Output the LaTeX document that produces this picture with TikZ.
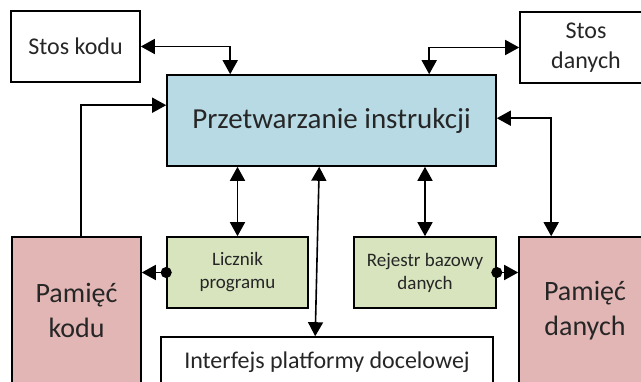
\documentclass[tikz,border=0pt]{standalone}
\usepackage{fontspec}
\setmainfont{Carlito}
\usetikzlibrary{arrows.meta,calc}
\definecolor{mainblue}{HTML}{B7DAE4}
\definecolor{regreen}{HTML}{D7E4BD}
\definecolor{mempink}{HTML}{E2B6B4}
\definecolor{txt}{HTML}{262626}
\begin{document}
\begin{tikzpicture}[x=1pt,y=-1pt,
  box/.style={draw=black, line width=1.6pt, rectangle, inner sep=0pt, align=center, text=txt},
  conn/.style={line width=1.6pt, draw=black},
  biarrow/.style={conn, {Triangle[length=14pt,width=15pt]}-{Triangle[length=14pt,width=15pt]}},
  dotarrow/.style={conn, {Circle[length=11pt]}-{Triangle[length=14pt,width=15pt]}, shorten <=-5.5pt}
]
\useasboundingbox (0,0) rectangle (641,382);
\clip (0,0) rectangle (641,382);

\node[box, minimum width=129pt, minimum height=71pt, font=\fontsize{24}{28}\selectfont] (stoskodu) at (75.5,46.5) {Stos kodu};
\node[box, minimum width=132pt, minimum height=71pt, font=\fontsize{24}{30}\selectfont] (stosdanych) at (586,47.5) {Stos\\danych};
\node[box, fill=mainblue, minimum width=329pt, minimum height=91pt, font=\fontsize{29}{33}\selectfont] (main) at (331.5,120.5) {Przetwarzanie instrukcji};
\node[box, fill=regreen, minimum width=141pt, minimum height=71pt, font=\fontsize{19}{23}\selectfont] (licznik) at (237.5,272.5) {Licznik\\programu};
\node[box, fill=regreen, minimum width=142pt, minimum height=71pt, font=\fontsize{19}{23}\selectfont] (rejestr) at (425,272.5) {Rejestr bazowy\\danych};
\node[box, fill=mempink, minimum width=129pt, minimum height=147pt, font=\fontsize{28}{35}\selectfont] (pamkodu) at (76.5,310.5) {Pamięć\\kodu};
\node[box, fill=mempink, minimum width=132pt, minimum height=147pt, font=\fontsize{28}{35}\selectfont] (pamdanych) at (585,310.5) {Pamięć\\danych};
\node[box, minimum width=332pt, minimum height=50pt, font=\fontsize{24}{28}\selectfont] (interfejs) at (327,362) {Interfejs platformy docelowej};

\draw[biarrow] (stoskodu.east) -| ($(main.north west)+(64,0)$);
\draw[biarrow] (stosdanych.west) -| ($(main.north west)+(263,0)$);
\draw[conn, -{Triangle[length=14pt,width=15pt]}] ($(pamkodu.north west)+(70,0)$) |- ($(main.north west)+(0,31)$);
\draw[biarrow] ($(main.north east)+(0,44)$) -| ($(pamdanych.north west)+(33,0)$);
\draw[biarrow] (licznik.north |- main.south) -- (licznik.north);
\draw[biarrow] ($(main.south west)+(153,0)$) -- ($(interfejs.north west)+(155,0)$);
\draw[biarrow] (rejestr.north |- main.south) -- (rejestr.north);
\draw[dotarrow] (licznik.west) -- (licznik.west -| pamkodu.east);
\draw[dotarrow] (rejestr.east) -- (rejestr.east -| pamdanych.west);
\end{tikzpicture}
\end{document}
